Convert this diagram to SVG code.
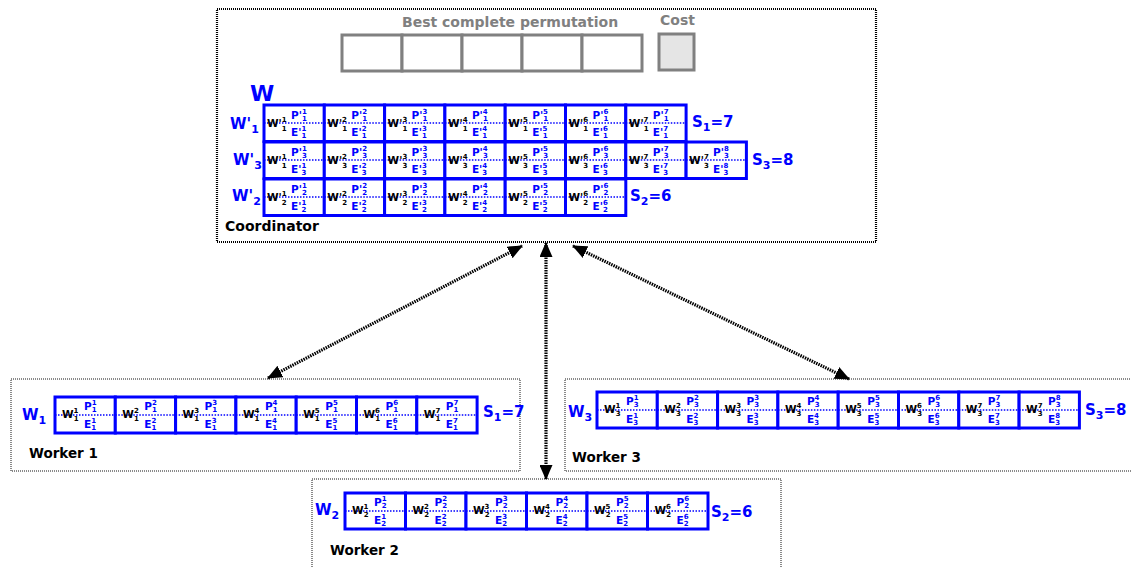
<svg xmlns="http://www.w3.org/2000/svg" width="1131" height="568" viewBox="0 0 1131 568">
<style>
text{font-family:"DejaVu Sans","Liberation Sans",sans-serif;font-weight:bold}
.c{fill:#fff;stroke:#0000ff;stroke-width:3}
.d{stroke:#0000ff;stroke-width:1.5;stroke-dasharray:1.5 1.5}
.k{font-size:10.5px;fill:#000}
.b{font-size:10.5px;fill:#0000ff}
.s{font-size:7px}
.lab{font-size:15px;fill:#0000ff}
.ls{font-size:11px}
.t{font-size:14px;fill:#000}
.g{font-size:14px;fill:#808080}
.gb{fill:#fff;stroke:#808080;stroke-width:3}
.frame{fill:none;stroke:#000;stroke-width:2.2;stroke-dasharray:1 1}
.wframe{fill:none;stroke:#8a8a8a;stroke-width:2;stroke-dasharray:1 1}
.arr{fill:none;stroke:#000;stroke-width:3.2;stroke-dasharray:1.5 1;marker-start:url(#ah);marker-end:url(#ah)}
</style>
<defs>
<marker id="ah" markerUnits="userSpaceOnUse" markerWidth="15" markerHeight="13" refX="14" refY="6.5" orient="auto-start-reverse"><path d="M0,0 L15,6.5 L0,13 Z" fill="#000"/></marker>
</defs>
<rect width="1131" height="568" fill="#fff"/>

<g id="coordinator">
<rect class="frame" x="217" y="9" width="659" height="233"/>
<text class="g" x="402" y="26.5">Best complete permutation</text>
<text class="g" x="660" y="25">Cost</text>
<rect class="gb" x="342" y="35" width="60" height="36"/>
<rect class="gb" x="402" y="35" width="60" height="36"/>
<rect class="gb" x="462" y="35" width="60" height="36"/>
<rect class="gb" x="522" y="35" width="60" height="36"/>
<rect class="gb" x="582" y="35" width="60" height="36"/>
<rect class="gb" x="659" y="34" width="35" height="36" style="fill:#e5e5e5"/>
<text x="250" y="101" style="font-size:22px;fill:#0000ff">W</text>
<text class="lab" x="230" y="129">W'<tspan class="ls" dy="4">1</tspan></text>
<text class="lab" x="233" y="165">W'<tspan class="ls" dy="4">3</tspan></text>
<text class="lab" x="232" y="201">W'<tspan class="ls" dy="4">2</tspan></text>
<text class="lab" x="692" y="127">S<tspan class="ls" dy="4">1</tspan><tspan dy="-4">=7</tspan></text>
<text class="lab" x="752" y="165">S<tspan class="ls" dy="4">3</tspan><tspan dy="-4">=8</tspan></text>
<text class="lab" x="630" y="201">S<tspan class="ls" dy="4">2</tspan><tspan dy="-4">=6</tspan></text>
<text class="t" x="225" y="231">Coordinator</text>

<g id="row-w1p">
<g transform="translate(264,105)"><rect class="c" width="60.3" height="36.5"/><line class="d" x1="0" y1="18" x2="60" y2="18"/><text class="k" x="3" y="22">W'<tspan class="s" dy="-5">1</tspan><tspan class="s" dx="-4.8" dy="9">1</tspan></text><text class="b" x="27" y="14">P'<tspan class="s" dy="-5">1</tspan><tspan class="s" dx="-4.8" dy="7">1</tspan></text><text class="b" x="27" y="31">E'<tspan class="s" dy="-5">1</tspan><tspan class="s" dx="-4.8" dy="7">1</tspan></text></g>
<g transform="translate(324.3,105)"><rect class="c" width="60.3" height="36.5"/><line class="d" x1="0" y1="18" x2="60" y2="18"/><text class="k" x="3" y="22">W'<tspan class="s" dy="-5">2</tspan><tspan class="s" dx="-4.8" dy="9">1</tspan></text><text class="b" x="27" y="14">P'<tspan class="s" dy="-5">2</tspan><tspan class="s" dx="-4.8" dy="7">1</tspan></text><text class="b" x="27" y="31">E'<tspan class="s" dy="-5">2</tspan><tspan class="s" dx="-4.8" dy="7">1</tspan></text></g>
<g transform="translate(384.6,105)"><rect class="c" width="60.3" height="36.5"/><line class="d" x1="0" y1="18" x2="60" y2="18"/><text class="k" x="3" y="22">W'<tspan class="s" dy="-5">3</tspan><tspan class="s" dx="-4.8" dy="9">1</tspan></text><text class="b" x="27" y="14">P'<tspan class="s" dy="-5">3</tspan><tspan class="s" dx="-4.8" dy="7">1</tspan></text><text class="b" x="27" y="31">E'<tspan class="s" dy="-5">3</tspan><tspan class="s" dx="-4.8" dy="7">1</tspan></text></g>
<g transform="translate(444.9,105)"><rect class="c" width="60.3" height="36.5"/><line class="d" x1="0" y1="18" x2="60" y2="18"/><text class="k" x="3" y="22">W'<tspan class="s" dy="-5">4</tspan><tspan class="s" dx="-4.8" dy="9">1</tspan></text><text class="b" x="27" y="14">P'<tspan class="s" dy="-5">4</tspan><tspan class="s" dx="-4.8" dy="7">1</tspan></text><text class="b" x="27" y="31">E'<tspan class="s" dy="-5">4</tspan><tspan class="s" dx="-4.8" dy="7">1</tspan></text></g>
<g transform="translate(505.2,105)"><rect class="c" width="60.3" height="36.5"/><line class="d" x1="0" y1="18" x2="60" y2="18"/><text class="k" x="3" y="22">W'<tspan class="s" dy="-5">5</tspan><tspan class="s" dx="-4.8" dy="9">1</tspan></text><text class="b" x="27" y="14">P'<tspan class="s" dy="-5">5</tspan><tspan class="s" dx="-4.8" dy="7">1</tspan></text><text class="b" x="27" y="31">E'<tspan class="s" dy="-5">5</tspan><tspan class="s" dx="-4.8" dy="7">1</tspan></text></g>
<g transform="translate(565.5,105)"><rect class="c" width="60.3" height="36.5"/><line class="d" x1="0" y1="18" x2="60" y2="18"/><text class="k" x="3" y="22">W'<tspan class="s" dy="-5">6</tspan><tspan class="s" dx="-4.8" dy="9">1</tspan></text><text class="b" x="27" y="14">P'<tspan class="s" dy="-5">6</tspan><tspan class="s" dx="-4.8" dy="7">1</tspan></text><text class="b" x="27" y="31">E'<tspan class="s" dy="-5">6</tspan><tspan class="s" dx="-4.8" dy="7">1</tspan></text></g>
<g transform="translate(625.8,105)"><rect class="c" width="60.3" height="36.5"/><line class="d" x1="0" y1="18" x2="60" y2="18"/><text class="k" x="3" y="22">W'<tspan class="s" dy="-5">7</tspan><tspan class="s" dx="-4.8" dy="9">1</tspan></text><text class="b" x="27" y="14">P'<tspan class="s" dy="-5">7</tspan><tspan class="s" dx="-4.8" dy="7">1</tspan></text><text class="b" x="27" y="31">E'<tspan class="s" dy="-5">7</tspan><tspan class="s" dx="-4.8" dy="7">1</tspan></text></g>
</g>

<g id="row-w3p">
<g transform="translate(264,142)"><rect class="c" width="60.3" height="36.5"/><line class="d" x1="0" y1="18" x2="60" y2="18"/><text class="k" x="3" y="22">W'<tspan class="s" dy="-5">1</tspan><tspan class="s" dx="-4.8" dy="9">1</tspan></text><text class="b" x="27" y="14">P'<tspan class="s" dy="-5">1</tspan><tspan class="s" dx="-4.8" dy="7">3</tspan></text><text class="b" x="27" y="31">E'<tspan class="s" dy="-5">1</tspan><tspan class="s" dx="-4.8" dy="7">3</tspan></text></g>
<g transform="translate(324.3,142)"><rect class="c" width="60.3" height="36.5"/><line class="d" x1="0" y1="18" x2="60" y2="18"/><text class="k" x="3" y="22">W'<tspan class="s" dy="-5">2</tspan><tspan class="s" dx="-4.8" dy="9">3</tspan></text><text class="b" x="27" y="14">P'<tspan class="s" dy="-5">2</tspan><tspan class="s" dx="-4.8" dy="7">3</tspan></text><text class="b" x="27" y="31">E'<tspan class="s" dy="-5">2</tspan><tspan class="s" dx="-4.8" dy="7">3</tspan></text></g>
<g transform="translate(384.6,142)"><rect class="c" width="60.3" height="36.5"/><line class="d" x1="0" y1="18" x2="60" y2="18"/><text class="k" x="3" y="22">W'<tspan class="s" dy="-5">3</tspan><tspan class="s" dx="-4.8" dy="9">3</tspan></text><text class="b" x="27" y="14">P'<tspan class="s" dy="-5">3</tspan><tspan class="s" dx="-4.8" dy="7">3</tspan></text><text class="b" x="27" y="31">E'<tspan class="s" dy="-5">3</tspan><tspan class="s" dx="-4.8" dy="7">3</tspan></text></g>
<g transform="translate(444.9,142)"><rect class="c" width="60.3" height="36.5"/><line class="d" x1="0" y1="18" x2="60" y2="18"/><text class="k" x="3" y="22">W'<tspan class="s" dy="-5">4</tspan><tspan class="s" dx="-4.8" dy="9">3</tspan></text><text class="b" x="27" y="14">P'<tspan class="s" dy="-5">4</tspan><tspan class="s" dx="-4.8" dy="7">3</tspan></text><text class="b" x="27" y="31">E'<tspan class="s" dy="-5">4</tspan><tspan class="s" dx="-4.8" dy="7">3</tspan></text></g>
<g transform="translate(505.2,142)"><rect class="c" width="60.3" height="36.5"/><line class="d" x1="0" y1="18" x2="60" y2="18"/><text class="k" x="3" y="22">W'<tspan class="s" dy="-5">5</tspan><tspan class="s" dx="-4.8" dy="9">3</tspan></text><text class="b" x="27" y="14">P'<tspan class="s" dy="-5">5</tspan><tspan class="s" dx="-4.8" dy="7">3</tspan></text><text class="b" x="27" y="31">E'<tspan class="s" dy="-5">5</tspan><tspan class="s" dx="-4.8" dy="7">3</tspan></text></g>
<g transform="translate(565.5,142)"><rect class="c" width="60.3" height="36.5"/><line class="d" x1="0" y1="18" x2="60" y2="18"/><text class="k" x="3" y="22">W'<tspan class="s" dy="-5">6</tspan><tspan class="s" dx="-4.8" dy="9">3</tspan></text><text class="b" x="27" y="14">P'<tspan class="s" dy="-5">6</tspan><tspan class="s" dx="-4.8" dy="7">3</tspan></text><text class="b" x="27" y="31">E'<tspan class="s" dy="-5">6</tspan><tspan class="s" dx="-4.8" dy="7">3</tspan></text></g>
<g transform="translate(625.8,142)"><rect class="c" width="60.3" height="36.5"/><line class="d" x1="0" y1="18" x2="60" y2="18"/><text class="k" x="3" y="22">W'<tspan class="s" dy="-5">7</tspan><tspan class="s" dx="-4.8" dy="9">3</tspan></text><text class="b" x="27" y="14">P'<tspan class="s" dy="-5">7</tspan><tspan class="s" dx="-4.8" dy="7">3</tspan></text><text class="b" x="27" y="31">E'<tspan class="s" dy="-5">7</tspan><tspan class="s" dx="-4.8" dy="7">3</tspan></text></g>
<g transform="translate(686.1,142)"><rect class="c" width="60.3" height="36.5"/><line class="d" x1="0" y1="18" x2="60" y2="18"/><text class="k" x="3" y="22">W'<tspan class="s" dy="-5">7</tspan><tspan class="s" dx="-4.8" dy="9">3</tspan></text><text class="b" x="27" y="14">P'<tspan class="s" dy="-5">8</tspan><tspan class="s" dx="-4.8" dy="7">3</tspan></text><text class="b" x="27" y="31">E'<tspan class="s" dy="-5">8</tspan><tspan class="s" dx="-4.8" dy="7">3</tspan></text></g>
</g>

<g id="row-w2p">
<g transform="translate(264,179)"><rect class="c" width="60.3" height="36.5"/><line class="d" x1="0" y1="18" x2="60" y2="18"/><text class="k" x="3" y="22">W'<tspan class="s" dy="-5">1</tspan><tspan class="s" dx="-4.8" dy="9">2</tspan></text><text class="b" x="27" y="14">P'<tspan class="s" dy="-5">1</tspan><tspan class="s" dx="-4.8" dy="7">2</tspan></text><text class="b" x="27" y="31">E'<tspan class="s" dy="-5">1</tspan><tspan class="s" dx="-4.8" dy="7">2</tspan></text></g>
<g transform="translate(324.3,179)"><rect class="c" width="60.3" height="36.5"/><line class="d" x1="0" y1="18" x2="60" y2="18"/><text class="k" x="3" y="22">W'<tspan class="s" dy="-5">2</tspan><tspan class="s" dx="-4.8" dy="9">2</tspan></text><text class="b" x="27" y="14">P'<tspan class="s" dy="-5">2</tspan><tspan class="s" dx="-4.8" dy="7">2</tspan></text><text class="b" x="27" y="31">E'<tspan class="s" dy="-5">2</tspan><tspan class="s" dx="-4.8" dy="7">2</tspan></text></g>
<g transform="translate(384.6,179)"><rect class="c" width="60.3" height="36.5"/><line class="d" x1="0" y1="18" x2="60" y2="18"/><text class="k" x="3" y="22">W'<tspan class="s" dy="-5">3</tspan><tspan class="s" dx="-4.8" dy="9">2</tspan></text><text class="b" x="27" y="14">P'<tspan class="s" dy="-5">3</tspan><tspan class="s" dx="-4.8" dy="7">2</tspan></text><text class="b" x="27" y="31">E'<tspan class="s" dy="-5">3</tspan><tspan class="s" dx="-4.8" dy="7">2</tspan></text></g>
<g transform="translate(444.9,179)"><rect class="c" width="60.3" height="36.5"/><line class="d" x1="0" y1="18" x2="60" y2="18"/><text class="k" x="3" y="22">W'<tspan class="s" dy="-5">4</tspan><tspan class="s" dx="-4.8" dy="9">2</tspan></text><text class="b" x="27" y="14">P'<tspan class="s" dy="-5">4</tspan><tspan class="s" dx="-4.8" dy="7">2</tspan></text><text class="b" x="27" y="31">E'<tspan class="s" dy="-5">4</tspan><tspan class="s" dx="-4.8" dy="7">2</tspan></text></g>
<g transform="translate(505.2,179)"><rect class="c" width="60.3" height="36.5"/><line class="d" x1="0" y1="18" x2="60" y2="18"/><text class="k" x="3" y="22">W'<tspan class="s" dy="-5">5</tspan><tspan class="s" dx="-4.8" dy="9">2</tspan></text><text class="b" x="27" y="14">P'<tspan class="s" dy="-5">5</tspan><tspan class="s" dx="-4.8" dy="7">2</tspan></text><text class="b" x="27" y="31">E'<tspan class="s" dy="-5">5</tspan><tspan class="s" dx="-4.8" dy="7">2</tspan></text></g>
<g transform="translate(565.5,179)"><rect class="c" width="60.3" height="36.5"/><line class="d" x1="0" y1="18" x2="60" y2="18"/><text class="k" x="3" y="22">W'<tspan class="s" dy="-5">6</tspan><tspan class="s" dx="-4.8" dy="9">2</tspan></text><text class="b" x="27" y="14">P'<tspan class="s" dy="-5">6</tspan><tspan class="s" dx="-4.8" dy="7">2</tspan></text><text class="b" x="27" y="31">E'<tspan class="s" dy="-5">6</tspan><tspan class="s" dx="-4.8" dy="7">2</tspan></text></g>
</g>
</g>

<g id="worker1">
<rect class="wframe" x="11" y="379" width="509" height="92"/>
<text class="lab" x="22" y="420">W<tspan class="ls" dy="4">1</tspan></text>
<text class="lab" x="483" y="417">S<tspan class="ls" dy="4">1</tspan><tspan dy="-4">=7</tspan></text>
<text class="t" x="29" y="458" style="font-size:13.5px">Worker 1</text>
<g transform="translate(55,397)"><rect class="c" width="60.3" height="36"/><line class="d" x1="0" y1="18" x2="60" y2="18"/><text class="k" x="7" y="21">W<tspan class="s" dy="-5">1</tspan><tspan class="s" dx="-4.8" dy="8">1</tspan></text><text class="b" x="29" y="13">P<tspan class="s" dy="-5">1</tspan><tspan class="s" dx="-4.8" dy="7">1</tspan></text><text class="b" x="29" y="31">E<tspan class="s" dy="-5">1</tspan><tspan class="s" dx="-4.8" dy="7">1</tspan></text></g>
<g transform="translate(115.3,397)"><rect class="c" width="60.3" height="36"/><line class="d" x1="0" y1="18" x2="60" y2="18"/><text class="k" x="7" y="21">W<tspan class="s" dy="-5">2</tspan><tspan class="s" dx="-4.8" dy="8">1</tspan></text><text class="b" x="29" y="13">P<tspan class="s" dy="-5">2</tspan><tspan class="s" dx="-4.8" dy="7">1</tspan></text><text class="b" x="29" y="31">E<tspan class="s" dy="-5">2</tspan><tspan class="s" dx="-4.8" dy="7">1</tspan></text></g>
<g transform="translate(175.6,397)"><rect class="c" width="60.3" height="36"/><line class="d" x1="0" y1="18" x2="60" y2="18"/><text class="k" x="7" y="21">W<tspan class="s" dy="-5">3</tspan><tspan class="s" dx="-4.8" dy="8">1</tspan></text><text class="b" x="29" y="13">P<tspan class="s" dy="-5">3</tspan><tspan class="s" dx="-4.8" dy="7">1</tspan></text><text class="b" x="29" y="31">E<tspan class="s" dy="-5">3</tspan><tspan class="s" dx="-4.8" dy="7">1</tspan></text></g>
<g transform="translate(235.9,397)"><rect class="c" width="60.3" height="36"/><line class="d" x1="0" y1="18" x2="60" y2="18"/><text class="k" x="7" y="21">W<tspan class="s" dy="-5">4</tspan><tspan class="s" dx="-4.8" dy="8">1</tspan></text><text class="b" x="29" y="13">P<tspan class="s" dy="-5">4</tspan><tspan class="s" dx="-4.8" dy="7">1</tspan></text><text class="b" x="29" y="31">E<tspan class="s" dy="-5">4</tspan><tspan class="s" dx="-4.8" dy="7">1</tspan></text></g>
<g transform="translate(296.2,397)"><rect class="c" width="60.3" height="36"/><line class="d" x1="0" y1="18" x2="60" y2="18"/><text class="k" x="7" y="21">W<tspan class="s" dy="-5">5</tspan><tspan class="s" dx="-4.8" dy="8">1</tspan></text><text class="b" x="29" y="13">P<tspan class="s" dy="-5">5</tspan><tspan class="s" dx="-4.8" dy="7">1</tspan></text><text class="b" x="29" y="31">E<tspan class="s" dy="-5">5</tspan><tspan class="s" dx="-4.8" dy="7">1</tspan></text></g>
<g transform="translate(356.5,397)"><rect class="c" width="60.3" height="36"/><line class="d" x1="0" y1="18" x2="60" y2="18"/><text class="k" x="7" y="21">W<tspan class="s" dy="-5">6</tspan><tspan class="s" dx="-4.8" dy="8">1</tspan></text><text class="b" x="29" y="13">P<tspan class="s" dy="-5">6</tspan><tspan class="s" dx="-4.8" dy="7">1</tspan></text><text class="b" x="29" y="31">E<tspan class="s" dy="-5">6</tspan><tspan class="s" dx="-4.8" dy="7">1</tspan></text></g>
<g transform="translate(416.8,397)"><rect class="c" width="60.3" height="36"/><line class="d" x1="0" y1="18" x2="60" y2="18"/><text class="k" x="7" y="21">W<tspan class="s" dy="-5">7</tspan><tspan class="s" dx="-4.8" dy="8">1</tspan></text><text class="b" x="29" y="13">P<tspan class="s" dy="-5">7</tspan><tspan class="s" dx="-4.8" dy="7">1</tspan></text><text class="b" x="29" y="31">E<tspan class="s" dy="-5">7</tspan><tspan class="s" dx="-4.8" dy="7">1</tspan></text></g>
</g>

<g id="worker3">
<rect class="wframe" x="565" y="379" width="570" height="92"/>
<text class="lab" x="568" y="417">W<tspan class="ls" dy="4">3</tspan></text>
<text class="lab" x="1085" y="415">S<tspan class="ls" dy="4">3</tspan><tspan dy="-4">=8</tspan></text>
<text class="t" x="572" y="462" style="font-size:13.5px">Worker 3</text>
<g transform="translate(597,392)"><rect class="c" width="60.3" height="36"/><line class="d" x1="0" y1="18" x2="60" y2="18"/><text class="k" x="7" y="21">W<tspan class="s" dy="-5">1</tspan><tspan class="s" dx="-4.8" dy="8">3</tspan></text><text class="b" x="29" y="13">P<tspan class="s" dy="-5">1</tspan><tspan class="s" dx="-4.8" dy="7">3</tspan></text><text class="b" x="29" y="31">E<tspan class="s" dy="-5">1</tspan><tspan class="s" dx="-4.8" dy="7">3</tspan></text></g>
<g transform="translate(657.3,392)"><rect class="c" width="60.3" height="36"/><line class="d" x1="0" y1="18" x2="60" y2="18"/><text class="k" x="7" y="21">W<tspan class="s" dy="-5">2</tspan><tspan class="s" dx="-4.8" dy="8">3</tspan></text><text class="b" x="29" y="13">P<tspan class="s" dy="-5">2</tspan><tspan class="s" dx="-4.8" dy="7">3</tspan></text><text class="b" x="29" y="31">E<tspan class="s" dy="-5">2</tspan><tspan class="s" dx="-4.8" dy="7">3</tspan></text></g>
<g transform="translate(717.6,392)"><rect class="c" width="60.3" height="36"/><line class="d" x1="0" y1="18" x2="60" y2="18"/><text class="k" x="7" y="21">W<tspan class="s" dy="-5">3</tspan><tspan class="s" dx="-4.8" dy="8">3</tspan></text><text class="b" x="29" y="13">P<tspan class="s" dy="-5">3</tspan><tspan class="s" dx="-4.8" dy="7">3</tspan></text><text class="b" x="29" y="31">E<tspan class="s" dy="-5">3</tspan><tspan class="s" dx="-4.8" dy="7">3</tspan></text></g>
<g transform="translate(777.9,392)"><rect class="c" width="60.3" height="36"/><line class="d" x1="0" y1="18" x2="60" y2="18"/><text class="k" x="7" y="21">W<tspan class="s" dy="-5">4</tspan><tspan class="s" dx="-4.8" dy="8">3</tspan></text><text class="b" x="29" y="13">P<tspan class="s" dy="-5">4</tspan><tspan class="s" dx="-4.8" dy="7">3</tspan></text><text class="b" x="29" y="31">E<tspan class="s" dy="-5">4</tspan><tspan class="s" dx="-4.8" dy="7">3</tspan></text></g>
<g transform="translate(838.2,392)"><rect class="c" width="60.3" height="36"/><line class="d" x1="0" y1="18" x2="60" y2="18"/><text class="k" x="7" y="21">W<tspan class="s" dy="-5">5</tspan><tspan class="s" dx="-4.8" dy="8">3</tspan></text><text class="b" x="29" y="13">P<tspan class="s" dy="-5">5</tspan><tspan class="s" dx="-4.8" dy="7">3</tspan></text><text class="b" x="29" y="31">E<tspan class="s" dy="-5">5</tspan><tspan class="s" dx="-4.8" dy="7">3</tspan></text></g>
<g transform="translate(898.5,392)"><rect class="c" width="60.3" height="36"/><line class="d" x1="0" y1="18" x2="60" y2="18"/><text class="k" x="7" y="21">W<tspan class="s" dy="-5">6</tspan><tspan class="s" dx="-4.8" dy="8">3</tspan></text><text class="b" x="29" y="13">P<tspan class="s" dy="-5">6</tspan><tspan class="s" dx="-4.8" dy="7">3</tspan></text><text class="b" x="29" y="31">E<tspan class="s" dy="-5">6</tspan><tspan class="s" dx="-4.8" dy="7">3</tspan></text></g>
<g transform="translate(958.8,392)"><rect class="c" width="60.3" height="36"/><line class="d" x1="0" y1="18" x2="60" y2="18"/><text class="k" x="7" y="21">W<tspan class="s" dy="-5">7</tspan><tspan class="s" dx="-4.8" dy="8">3</tspan></text><text class="b" x="29" y="13">P<tspan class="s" dy="-5">7</tspan><tspan class="s" dx="-4.8" dy="7">3</tspan></text><text class="b" x="29" y="31">E<tspan class="s" dy="-5">7</tspan><tspan class="s" dx="-4.8" dy="7">3</tspan></text></g>
<g transform="translate(1019.1,392)"><rect class="c" width="60.3" height="36"/><line class="d" x1="0" y1="18" x2="60" y2="18"/><text class="k" x="7" y="21">W<tspan class="s" dy="-5">7</tspan><tspan class="s" dx="-4.8" dy="8">3</tspan></text><text class="b" x="29" y="13">P<tspan class="s" dy="-5">8</tspan><tspan class="s" dx="-4.8" dy="7">3</tspan></text><text class="b" x="29" y="31">E<tspan class="s" dy="-5">8</tspan><tspan class="s" dx="-4.8" dy="7">3</tspan></text></g>
</g>

<g id="worker2">
<rect class="wframe" x="312" y="479" width="469" height="95"/>
<text class="lab" x="315" y="515">W<tspan class="ls" dy="4">2</tspan></text>
<text class="lab" x="711" y="517">S<tspan class="ls" dy="4">2</tspan><tspan dy="-4">=6</tspan></text>
<text class="t" x="330" y="555" style="font-size:13.5px">Worker 2</text>
<g transform="translate(345,493)"><rect class="c" width="60.5" height="36"/><line class="d" x1="0" y1="18" x2="60" y2="18"/><text class="k" x="7" y="21">W<tspan class="s" dy="-5">1</tspan><tspan class="s" dx="-4.8" dy="8">2</tspan></text><text class="b" x="29" y="13">P<tspan class="s" dy="-5">1</tspan><tspan class="s" dx="-4.8" dy="7">2</tspan></text><text class="b" x="29" y="31">E<tspan class="s" dy="-5">1</tspan><tspan class="s" dx="-4.8" dy="7">2</tspan></text></g>
<g transform="translate(405.5,493)"><rect class="c" width="60.5" height="36"/><line class="d" x1="0" y1="18" x2="60" y2="18"/><text class="k" x="7" y="21">W<tspan class="s" dy="-5">2</tspan><tspan class="s" dx="-4.8" dy="8">2</tspan></text><text class="b" x="29" y="13">P<tspan class="s" dy="-5">2</tspan><tspan class="s" dx="-4.8" dy="7">2</tspan></text><text class="b" x="29" y="31">E<tspan class="s" dy="-5">2</tspan><tspan class="s" dx="-4.8" dy="7">2</tspan></text></g>
<g transform="translate(466,493)"><rect class="c" width="60.5" height="36"/><line class="d" x1="0" y1="18" x2="60" y2="18"/><text class="k" x="7" y="21">W<tspan class="s" dy="-5">3</tspan><tspan class="s" dx="-4.8" dy="8">2</tspan></text><text class="b" x="29" y="13">P<tspan class="s" dy="-5">3</tspan><tspan class="s" dx="-4.8" dy="7">2</tspan></text><text class="b" x="29" y="31">E<tspan class="s" dy="-5">3</tspan><tspan class="s" dx="-4.8" dy="7">2</tspan></text></g>
<g transform="translate(526.5,493)"><rect class="c" width="60.5" height="36"/><line class="d" x1="0" y1="18" x2="60" y2="18"/><text class="k" x="7" y="21">W<tspan class="s" dy="-5">4</tspan><tspan class="s" dx="-4.8" dy="8">2</tspan></text><text class="b" x="29" y="13">P<tspan class="s" dy="-5">4</tspan><tspan class="s" dx="-4.8" dy="7">2</tspan></text><text class="b" x="29" y="31">E<tspan class="s" dy="-5">4</tspan><tspan class="s" dx="-4.8" dy="7">2</tspan></text></g>
<g transform="translate(587,493)"><rect class="c" width="60.5" height="36"/><line class="d" x1="0" y1="18" x2="60" y2="18"/><text class="k" x="7" y="21">W<tspan class="s" dy="-5">5</tspan><tspan class="s" dx="-4.8" dy="8">2</tspan></text><text class="b" x="29" y="13">P<tspan class="s" dy="-5">5</tspan><tspan class="s" dx="-4.8" dy="7">2</tspan></text><text class="b" x="29" y="31">E<tspan class="s" dy="-5">5</tspan><tspan class="s" dx="-4.8" dy="7">2</tspan></text></g>
<g transform="translate(647.5,493)"><rect class="c" width="60.5" height="36"/><line class="d" x1="0" y1="18" x2="60" y2="18"/><text class="k" x="7" y="21">W<tspan class="s" dy="-5">6</tspan><tspan class="s" dx="-4.8" dy="8">2</tspan></text><text class="b" x="29" y="13">P<tspan class="s" dy="-5">6</tspan><tspan class="s" dx="-4.8" dy="7">2</tspan></text><text class="b" x="29" y="31">E<tspan class="s" dy="-5">6</tspan><tspan class="s" dx="-4.8" dy="7">2</tspan></text></g>
</g>

<g id="connectors">
<line class="arr" x1="268" y1="378" x2="522" y2="246"/>
<line class="arr" x1="546" y1="479" x2="546" y2="243"/>
<line class="arr" x1="849" y1="379" x2="573" y2="246"/>
</g>
</svg>
